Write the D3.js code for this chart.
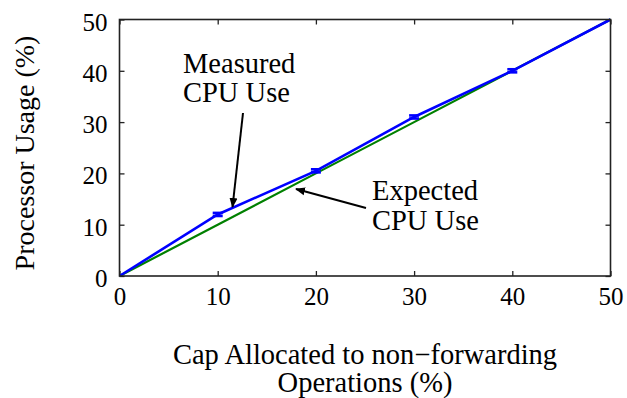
<!DOCTYPE html>
<html>
<head>
<meta charset="utf-8">
<script src="https://cdn.jsdelivr.net/npm/d3@7"></script>
<style>
  html, body { margin: 0; padding: 0; background: #fff; }
</style>
</head>
<body>
<svg id="chart" width="627" height="398"></svg>
<script>
// Processor usage versus the cap allocated to non-forwarding operations
const capValues = [0, 10, 20, 30, 40, 50];
const measuredUse = [0, 12, 20.5, 31, 40, 50];
const measuredErr = [0, 0.3, 0.3, 0.3, 0.3, 0];
const expectedUse = [0, 10, 20, 30, 40, 50];
const xTicks = [0, 10, 20, 30, 40, 50];
const yTicks = [0, 10, 20, 30, 40, 50];

const serif = "Liberation Serif";
const svg = d3.select("#chart");
const margin = { left: 119.5, right: 610.5, top: 19.5, bottom: 276 };

const x = d3.scaleLinear().domain([0, 50]).range([margin.left, margin.right]);
const y = d3.scaleLinear().domain([0, 50]).range([margin.bottom, margin.top]);

const axisColor = "#222";
const tickLen = 5;

// Axes with inward ticks, mirrored on top and right
const xAxisB = d3.axisBottom(x).tickValues(xTicks).tickSizeInner(-tickLen).tickSizeOuter(0).tickPadding(11);
const xAxisT = d3.axisTop(x).tickValues(xTicks).tickSizeInner(-tickLen).tickSizeOuter(0).tickFormat("");
const yAxisL = d3.axisLeft(y).tickValues(yTicks).tickSizeInner(-tickLen).tickSizeOuter(0).tickPadding(12);
const yAxisR = d3.axisRight(y).tickValues(yTicks).tickSizeInner(-tickLen).tickSizeOuter(0).tickFormat("");

function styleAxis(g) {
  g.attr("font-family", serif).attr("font-size", 25);
  g.select(".domain").remove();
  g.selectAll(".tick line").attr("stroke", axisColor).attr("stroke-width", 1.3);
  g.selectAll(".tick text").attr("fill", "#000").attr("font-family", serif).attr("font-size", 25);
}

svg.append("g").attr("transform", `translate(0,${margin.bottom})`).call(xAxisB).call(styleAxis)
  .selectAll(".tick text").attr("dy", "0.71em");
svg.append("g").attr("transform", `translate(0,${margin.top})`).call(xAxisT).call(styleAxis);
svg.append("g").attr("transform", `translate(${margin.left},0)`).call(yAxisL).call(styleAxis)
  .selectAll(".tick text").attr("dy", "0.42em");
svg.append("g").attr("transform", `translate(${margin.right},0)`).call(yAxisR).call(styleAxis);

// Expected usage (green)
const line = d3.line().x((d, i) => x(capValues[i])).y(d => y(d));
svg.append("path").datum(expectedUse)
  .attr("d", line).attr("fill", "none").attr("stroke", "#008000").attr("stroke-width", 2.2);

// Measured usage (blue) with error bars
svg.append("path").datum(measuredUse)
  .attr("d", line).attr("fill", "none").attr("stroke", "#0000ff").attr("stroke-width", 2.6);

const capW = 5;
const eb = svg.append("g").attr("stroke", "#0000ff").attr("stroke-width", 2.6);
measuredUse.forEach((v, i) => {
  if (measuredErr[i] <= 0) return;
  const cx = x(capValues[i]);
  const lo = y(v - measuredErr[i]), hi = y(v + measuredErr[i]);
  eb.append("line").attr("x1", cx).attr("x2", cx).attr("y1", lo).attr("y2", hi);
  eb.append("line").attr("x1", cx - capW).attr("x2", cx + capW).attr("y1", lo).attr("y2", lo);
  eb.append("line").attr("x1", cx - capW).attr("x2", cx + capW).attr("y1", hi).attr("y2", hi);
});

// Frame
svg.append("rect")
  .attr("x", margin.left).attr("y", margin.top)
  .attr("width", margin.right - margin.left).attr("height", margin.bottom - margin.top)
  .attr("fill", "none").attr("stroke", axisColor).attr("stroke-width", 1.6);

// Axis titles
svg.append("text")
  .attr("transform", "translate(34,153) rotate(-90)")
  .attr("text-anchor", "middle").attr("font-size", 28).attr("font-family", serif)
  .text("Processor Usage (%)");

const xTitle = svg.append("text").attr("text-anchor", "middle").attr("font-size", 28.5).attr("font-family", serif);
xTitle.append("tspan").attr("x", (margin.left + margin.right) / 2).attr("y", 364)
  .text("Cap Allocated to non\u2212forwarding");
xTitle.append("tspan").attr("x", (margin.left + margin.right) / 2).attr("y", 392)
  .text("Operations (%)");

// Annotations with arrows
const defs = svg.append("defs");
defs.append("marker").attr("id", "head")
  .attr("viewBox", "0 0 10 10").attr("refX", 9).attr("refY", 5)
  .attr("markerWidth", 5).attr("markerHeight", 5).attr("markerUnits", "strokeWidth")
  .attr("orient", "auto")
  .append("path").attr("d", "M0,1 L10,5 L0,9 Z").attr("fill", "#000");

function note(lines, tx, ty, from, to) {
  const t = svg.append("text").attr("font-size", 28.5).attr("font-family", serif);
  lines.forEach((s, i) => t.append("tspan").attr("x", tx).attr("y", ty + i * 29.5).text(s));
  svg.append("line")
    .attr("x1", from[0]).attr("y1", from[1]).attr("x2", to[0]).attr("y2", to[1])
    .attr("stroke", "#000").attr("stroke-width", 2).attr("marker-end", "url(#head)");
}

note(["Measured", "CPU Use"], 183, 72.5, [243, 113], [232.5, 207]);
note(["Expected", "CPU Use"], 372, 200, [366, 208], [296, 189]);
</script>
</body>
</html>
